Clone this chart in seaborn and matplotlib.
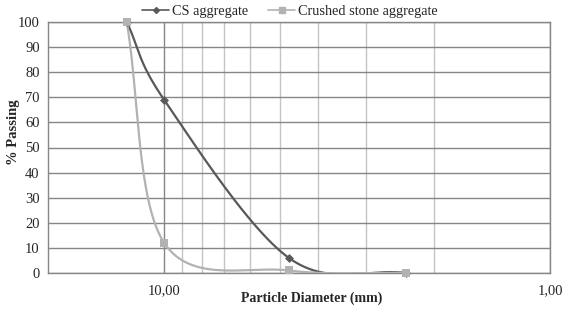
import seaborn as sns
import matplotlib.pyplot as plt
import matplotlib.ticker as mticker
from matplotlib.lines import Line2D
import pandas as pd
import numpy as np

# sieve sizes (mm) and % passing
sieve_mm = [12.5, 10.0, 4.75, 2.36]
cs_passing = [100, 69, 6, 0]
crushed_passing = [100, 12, 1, 0]

series = [
    ("CS aggregate", cs_passing, "#595959", "D", 4),
    ("Crushed stone aggregate", crushed_passing, "#b2b2b2", "s", 5),
]


def excel_smooth(xs, ys, n=60):
    # Excel-like smoothed line: cubic Bezier through points, worked out in
    # rough screen units (log x, y) so the curve bends the same way
    u = np.log10(xs) * 385.0
    v = np.asarray(ys, dtype=float) * 2.51
    pts = np.column_stack([u, v])
    # mirror the end points so the first/last segments follow the chord
    pts_ext = np.vstack([2 * pts[0] - pts[1], pts, 2 * pts[-1] - pts[-2]])
    out = []
    for i in range(1, len(pts_ext) - 2):
        p0, p1, p2, p3 = pts_ext[i - 1], pts_ext[i], pts_ext[i + 1], pts_ext[i + 2]
        c1 = p1 + (p2 - p0) / 6
        c2 = p2 - (p3 - p1) / 6
        t = np.linspace(0, 1, n)[:, None]
        seg = (1 - t) ** 3 * p1 + 3 * (1 - t) ** 2 * t * c1 + 3 * (1 - t) * t ** 2 * c2 + t ** 3 * p2
        out.append(seg if i == 1 else seg[1:])
    seg = np.vstack(out)
    return 10 ** (seg[:, 0] / 385.0), seg[:, 1] / 2.51


sns.set_style("white")
plt.rcParams['font.family'] = ['Liberation Serif', 'DejaVu Serif']

fig = plt.figure(figsize=(5.71, 3.16), dpi=100)
ax = fig.add_axes([48 / 571, 1 - 273 / 316, 502 / 571, 251 / 316])

smooth_rows = []
for name, vals, color, marker, ms in series:
    sx, sy = excel_smooth(sieve_mm, vals)
    smooth_rows.append(pd.DataFrame({"size": sx, "passing": sy, "series": name}))
smooth_df = pd.concat(smooth_rows, ignore_index=True)
point_df = pd.concat([pd.DataFrame({"size": sieve_mm, "passing": vals, "series": name})
                      for name, vals, *_ in series], ignore_index=True)

palette = {name: color for name, _, color, _, _ in series}
sns.lineplot(data=smooth_df, x="size", y="passing", hue="series", palette=palette,
             sort=False, estimator=None, linewidth=1.6, legend=False, ax=ax, zorder=3)
for name, vals, color, marker, ms in series:
    sub = point_df[point_df["series"] == name]
    sns.scatterplot(data=sub, x="size", y="passing", color=color, marker=marker,
                    s=ms ** 2 * 1.3, linewidth=0, legend=False, ax=ax, zorder=4, clip_on=False)

ax.set_xscale("log")
ax.set_xlim(20, 1)
ax.set_ylim(0, 100)
ax.xaxis.set_major_locator(mticker.FixedLocator([10, 1]))
ax.xaxis.set_major_formatter(mticker.FixedFormatter(["10,00", "1,00"]))
ax.xaxis.set_minor_locator(mticker.FixedLocator([2, 3, 4, 5, 6, 7, 8, 9]))
ax.xaxis.set_minor_formatter(mticker.NullFormatter())
ax.set_yticks(np.arange(0, 101, 10))

ax.grid(True, which="major", axis="both", color="#868686", linewidth=1)
ax.grid(True, which="minor", axis="x", color="#c4c4c4", linewidth=1)
ax.set_axisbelow(True)
for sp in ax.spines.values():
    sp.set_color("#868686")
    sp.set_linewidth(1)

ax.tick_params(axis="x", which="both", length=0, pad=8, labelsize=10.5)
ax.tick_params(axis="y", which="both", length=0, pad=6, labelsize=10.5)

ax.set_xlabel("Particle Diameter (mm)", fontsize=10, fontweight="bold")
ax.xaxis.set_label_coords(0.525, -0.075)
ax.set_ylabel("% Passing", fontsize=10.5, fontweight="bold")
ax.yaxis.set_label_coords(-0.056, 0.562)

handles = [Line2D([0], [0], color=c, marker=m, markersize=ms - 1, lw=1.2, label=n)
           for n, _, c, m, ms in series]
fig.legend(handles=handles, loc="upper center", bbox_to_anchor=(290 / 571, 1.025), ncol=2,
           frameon=False, fontsize=10.3, handlelength=1.9, handletextpad=0.2, columnspacing=1.4)

fig.savefig("out.png", dpi=100)
